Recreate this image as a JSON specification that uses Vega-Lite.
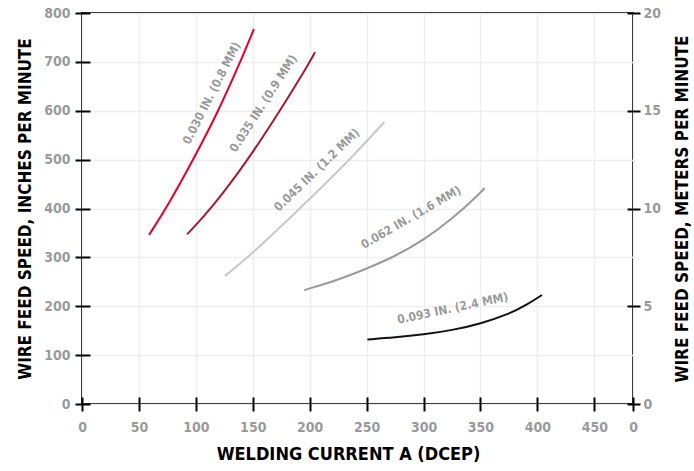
{
  "$schema": "https://vega.github.io/schema/vega-lite/v6.json",
  "width": 551,
  "height": 391,
  "autosize": "none",
  "padding": {"left": 82, "top": 13, "right": 61, "bottom": 67},
  "config": {
    "view": {"stroke": "#000000", "strokeWidth": 2},
    "font": "DejaVu Sans Condensed, Liberation Sans Narrow, Roboto, sans-serif",
    "axis": {
      "domain": false,
      "tickColor": "#000000",
      "tickWidth": 2,
      "labelColor": "#9a9a9a",
      "labelFontWeight": "bold",
      "labelFontSize": 14,
      "labelFlush": false,
      "titleColor": "#000000",
      "titleFontWeight": "bold",
      "titleFontSize": 18,
      "gridColor": "#eeeeee",
      "gridWidth": 1.5
    }
  },
  "datasets": {
    "curves": [
      {"wire": "0.030", "current": 58.9, "wfs": 346},
      {"wire": "0.030", "current": 76, "wfs": 408},
      {"wire": "0.030", "current": 98.2, "wfs": 502},
      {"wire": "0.030", "current": 120, "wfs": 600},
      {"wire": "0.030", "current": 138.7, "wfs": 698},
      {"wire": "0.030", "current": 151, "wfs": 767},
      {"wire": "0.035", "current": 92.3, "wfs": 347},
      {"wire": "0.035", "current": 113.8, "wfs": 400},
      {"wire": "0.035", "current": 146, "wfs": 500},
      {"wire": "0.035", "current": 173.9, "wfs": 600},
      {"wire": "0.035", "current": 200.2, "wfs": 700},
      {"wire": "0.035", "current": 204.7, "wfs": 720},
      {"wire": "0.045", "current": 125.5, "wfs": 262},
      {"wire": "0.045", "current": 146, "wfs": 300},
      {"wire": "0.045", "current": 191.5, "wfs": 400},
      {"wire": "0.045", "current": 235.4, "wfs": 500},
      {"wire": "0.045", "current": 265.6, "wfs": 577},
      {"wire": "0.062", "current": 195.2, "wfs": 233},
      {"wire": "0.062", "current": 225, "wfs": 254},
      {"wire": "0.062", "current": 250, "wfs": 277},
      {"wire": "0.062", "current": 275, "wfs": 302},
      {"wire": "0.062", "current": 300, "wfs": 335},
      {"wire": "0.062", "current": 325, "wfs": 378},
      {"wire": "0.062", "current": 350, "wfs": 432},
      {"wire": "0.062", "current": 353.6, "wfs": 442},
      {"wire": "0.093", "current": 250.7, "wfs": 132},
      {"wire": "0.093", "current": 275, "wfs": 136},
      {"wire": "0.093", "current": 300, "wfs": 142},
      {"wire": "0.093", "current": 325, "wfs": 151},
      {"wire": "0.093", "current": 350, "wfs": 164},
      {"wire": "0.093", "current": 376, "wfs": 185},
      {"wire": "0.093", "current": 390, "wfs": 202},
      {"wire": "0.093", "current": 404, "wfs": 223}
    ],
    "labels": [
      {"wire": "0.030", "text": "0.030 IN. (0.8 MM)", "current": 113.8, "wfs": 636},
      {"wire": "0.035", "text": "0.035 IN. (0.9 MM)", "current": 159.2, "wfs": 615},
      {"wire": "0.045", "text": "0.045 IN. (1.2 MM)", "current": 206.2, "wfs": 479},
      {"wire": "0.062", "text": "0.062 IN. (1.6 MM)", "current": 289, "wfs": 382},
      {"wire": "0.093", "text": "0.093 IN. (2.4 MM)", "current": 325.6, "wfs": 196}
    ],
    "meters": [{"m": 0}, {"m": 20}]
  },
  "layer": [
    {
      "layer": [
        {
          "data": {"name": "curves"},
          "mark": {"type": "line", "strokeWidth": 2, "interpolate": "basis"},
          "encoding": {
            "x": {
              "field": "current", "type": "quantitative",
              "scale": {"domain": [0, 484], "nice": false, "zero": false},
              "axis": {
                "values": [0, 50, 100, 150, 200, 250, 300, 350, 400, 450, 484],
                "labelExpr": "datum.value > 470 ? '0' : datum.label",
                "offset": -7, "tickSize": 14, "labelPadding": 9,
                "grid": true,
                "title": "WELDING CURRENT A (DCEP)", "titlePadding": 11, "titleX": 266
              }
            },
            "y": {
              "field": "wfs", "type": "quantitative",
              "scale": {"domain": [0, 800], "nice": false},
              "axis": {
                "values": [0, 100, 200, 300, 400, 500, 600, 700, 800],
                "offset": -8, "tickSize": 15, "labelPadding": 5,
                "grid": true,
                "title": "WIRE FEED SPEED, INCHES PER MINUTE", "titlePadding": 9, "titleFontSize": 17
              }
            },
            "color": {
              "field": "wire", "type": "nominal",
              "scale": {
                "domain": ["0.030", "0.035", "0.045", "0.062", "0.093"],
                "range": ["#e4002b", "#a8182e", "#c8c8c8", "#9a9a9a", "#111111"]
              },
              "legend": null
            }
          }
        },
        {
          "data": {"name": "labels"},
          "transform": [{"filter": "datum.wire == '0.030'"}],
          "mark": {"type": "text", "angle": -63, "fontSize": 12, "fontWeight": "bold", "color": "#9a9a9a", "align": "center", "baseline": "middle"},
          "encoding": {"x": {"field": "current", "type": "quantitative"}, "y": {"field": "wfs", "type": "quantitative"}, "text": {"field": "text"}}
        },
        {
          "data": {"name": "labels"},
          "transform": [{"filter": "datum.wire == '0.035'"}],
          "mark": {"type": "text", "angle": -57, "fontSize": 12, "fontWeight": "bold", "color": "#9a9a9a", "align": "center", "baseline": "middle"},
          "encoding": {"x": {"field": "current", "type": "quantitative"}, "y": {"field": "wfs", "type": "quantitative"}, "text": {"field": "text"}}
        },
        {
          "data": {"name": "labels"},
          "transform": [{"filter": "datum.wire == '0.045'"}],
          "mark": {"type": "text", "angle": -44, "fontSize": 12, "fontWeight": "bold", "color": "#9a9a9a", "align": "center", "baseline": "middle"},
          "encoding": {"x": {"field": "current", "type": "quantitative"}, "y": {"field": "wfs", "type": "quantitative"}, "text": {"field": "text"}}
        },
        {
          "data": {"name": "labels"},
          "transform": [{"filter": "datum.wire == '0.062'"}],
          "mark": {"type": "text", "angle": -30, "fontSize": 12, "fontWeight": "bold", "color": "#9a9a9a", "align": "center", "baseline": "middle"},
          "encoding": {"x": {"field": "current", "type": "quantitative"}, "y": {"field": "wfs", "type": "quantitative"}, "text": {"field": "text"}}
        },
        {
          "data": {"name": "labels"},
          "transform": [{"filter": "datum.wire == '0.093'"}],
          "mark": {"type": "text", "angle": -12, "fontSize": 12, "fontWeight": "bold", "color": "#9a9a9a", "align": "center", "baseline": "middle"},
          "encoding": {"x": {"field": "current", "type": "quantitative"}, "y": {"field": "wfs", "type": "quantitative"}, "text": {"field": "text"}}
        }
      ]
    },
    {
      "data": {"name": "meters"},
      "mark": {"type": "point", "opacity": 0},
      "encoding": {
        "y": {
          "field": "m", "type": "quantitative",
          "scale": {"domain": [0, 20], "nice": false},
          "axis": {
            "orient": "right",
            "values": [0, 5, 10, 15, 20],
            "offset": -6, "tickSize": 13, "labelPadding": 3,
            "grid": false,
            "title": "WIRE FEED SPEED, METERS PER MINUTE",
            "titleAngle": -90, "titleBaseline": "top", "titlePadding": 14, "titleFontSize": 17
          }
        }
      }
    }
  ],
  "resolve": {"scale": {"y": "independent"}}
}
